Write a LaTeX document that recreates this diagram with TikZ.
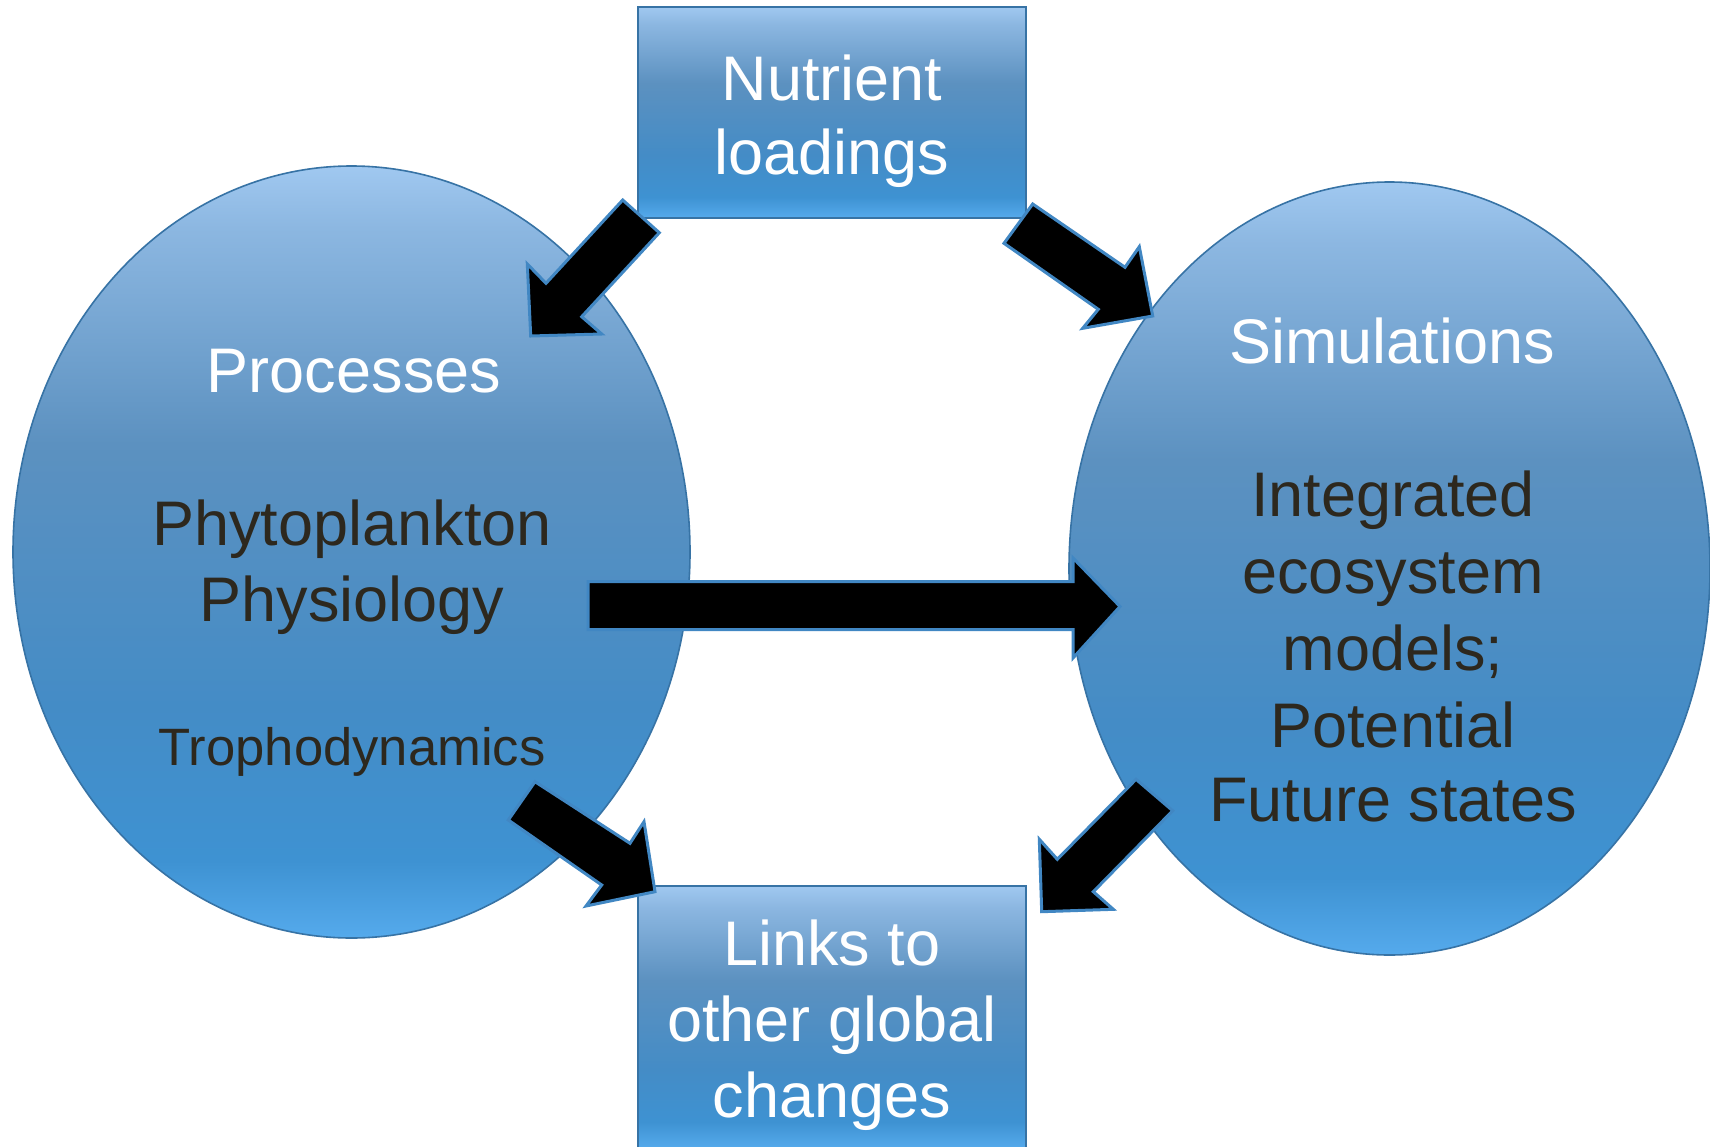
\documentclass[tikz,border=0pt]{standalone}
\usepackage{fontspec}
\setmainfont{Liberation Sans}
\usetikzlibrary{shapes.geometric}
\definecolor{edgeblue}{RGB}{55,115,165}
\definecolor{arrowedge}{RGB}{65,135,195}
\definecolor{darktext}{RGB}{45,40,30}
\definecolor{gA}{RGB}{160,200,240}
\definecolor{gB}{RGB}{140,183,225}
\definecolor{gC}{RGB}{92,145,192}
\definecolor{gD}{RGB}{68,140,198}
\definecolor{gE}{RGB}{62,146,210}
\definecolor{gF}{RGB}{85,170,236}
\pgfdeclareverticalshading{bluegrad}{100bp}{%
  color(0bp)=(gF); color(25bp)=(gF); color(30bp)=(gE); color(40bp)=(gD);
  color(57bp)=(gC); color(71bp)=(gB); color(75bp)=(gA); color(100bp)=(gA)}
\tikzset{
  blob/.style={ellipse, draw=edgeblue, line width=1.6pt, shading=bluegrad, inner sep=0pt},
  boxy/.style={rectangle, draw=edgeblue, line width=1.6pt, shading=bluegrad, inner sep=0pt},
  blockarrow/.style={fill=black, draw=arrowedge, line width=3pt, line join=miter},
  title/.style={text=white, font=\fontsize{63}{75}\selectfont, anchor=base, inner sep=0pt},
  body/.style={text=darktext, font=\fontsize{63}{75}\selectfont, anchor=base, inner sep=0pt},
  smallbody/.style={text=darktext, font=\fontsize{52.6}{63}\selectfont, anchor=base, inner sep=0pt}
}
\begin{document}
\begin{tikzpicture}[x=1pt,y=-1pt]
\useasboundingbox (0,0) rectangle (1710,1146);
\fill[white] (0,0) rectangle (1710,1146);
% shapes
\node[blob, minimum width=677pt, minimum height=772pt] (procs) at (351.5,552) {};
\node[blob, minimum width=641pt, minimum height=773pt] (sims) at (1389.5,568.5) {};
\node[boxy, minimum width=388pt, minimum height=211pt] (nutr) at (832,112.5) {};
\node[boxy, minimum width=388pt, minimum height=262pt] (links) at (832,1017) {};
% texts
\node[title] (tproc) at (354,392.7) {Processes};
\node[body] (tphy1) at (352,545) {Phytoplankton};
\node[body] (tphy2) at (352,621.7) {Physiology};
\node[smallbody] (ttro) at (352,765.7) {Trophodynamics};
\node[title] (tsim) at (1392,363.7) {Simulations};
\node[body] (ts1) at (1393,516.3) {Integrated};
\node[body] (ts2) at (1393,593.4) {ecosystem};
\node[body] (ts3) at (1393,670.2) {models;};
\node[body] (ts4) at (1393,747.7) {Potential};
\node[body] (ts5) at (1393,821.7) {Future states};
\node[title] (tn1) at (832,100) {Nutrient};
\node[title] (tn2) at (832,174.5) {loadings};
\node[title] (tl1) at (832,965) {Links to};
\node[title] (tl2) at (832,1041.5) {other global};
\node[title] (tl3) at (832,1117) {changes};
% block arrows
\draw[blockarrow] (622.7,200) -- (659.3,232.7) -- (581.7,316.7) -- (601.7,334) -- (530.7,336) -- (527.3,264) -- (546,283.3) -- cycle;
\draw[blockarrow] (1032.7,204) -- (1125,267.3) -- (1139.3,246.7) -- (1152.7,316) -- (1082.7,328.3) -- (1098.3,309.3) -- (1004,243.3) -- cycle;
\draw[blockarrow] (588,581.5) -- (1073,581.5) -- (1073,558) -- (1120,606.5) -- (1073,658) -- (1073,629.5) -- (588,629.5) -- cycle;
\draw[blockarrow] (535,781.7) -- (630,843.3) -- (644,821.7) -- (655,891.7) -- (586,906) -- (601.7,885) -- (508.3,820) -- cycle;
\draw[blockarrow] (1136,779.3) -- (1172.7,810.7) -- (1093.3,891.7) -- (1113.3,909.3) -- (1041.7,911.7) -- (1039.3,839.3) -- (1057.3,859.3) -- cycle;
\end{tikzpicture}
\end{document}
